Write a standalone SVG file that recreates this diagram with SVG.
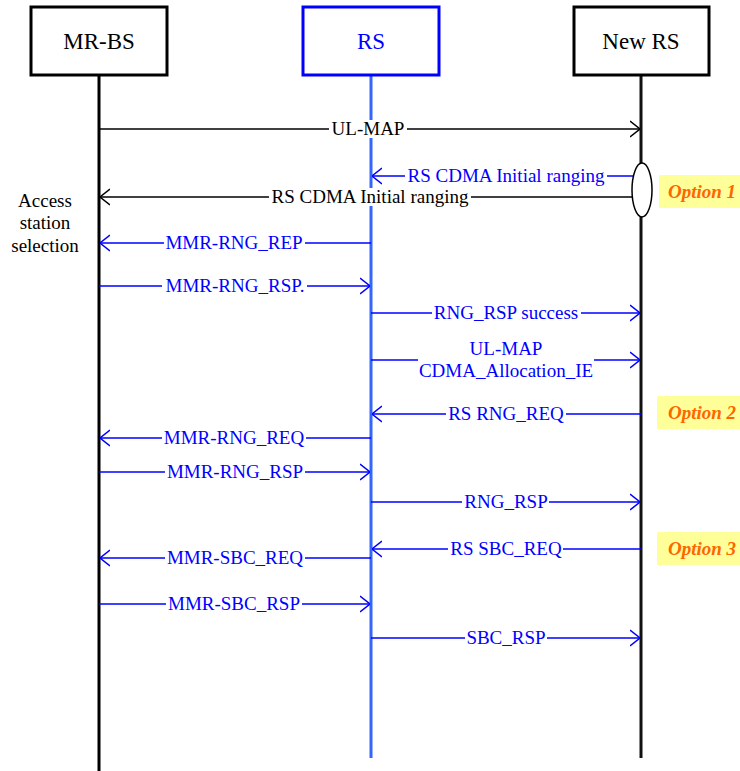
<svg xmlns="http://www.w3.org/2000/svg" width="740" height="771" viewBox="0 0 740 771" font-family="'Liberation Serif', Tinos, 'DejaVu Serif', serif">
<style>
.title{font-size:23px;text-anchor:middle;fill:#000;}
.lbl{font-size:19px;text-anchor:middle;}
.k{fill:#000;}
.b{fill:#0000ff;}
.box{fill:#fff;stroke:#000;stroke-width:3;}
.boxb{fill:#fff;stroke:#0000ff;stroke-width:3;}
.mk{stroke:#000;stroke-width:1.5;fill:none;}
.mb{stroke:#0000ff;stroke-width:1.5;fill:none;}
.bg{fill:#fff;}
.opt{fill:#ffff99;}
.optt{font-size:19px;font-weight:bold;font-style:italic;fill:#ff6600;}
</style>
<defs>
<marker id="ak" viewBox="0 0 10 18" refX="10" refY="9" markerWidth="10" markerHeight="18" orient="auto" markerUnits="userSpaceOnUse"><path d="M0,1 L10,9 L0,17" fill="none" stroke="#000" stroke-width="1.5"/></marker>
<marker id="ab" viewBox="0 0 10 18" refX="10" refY="9" markerWidth="10" markerHeight="18" orient="auto" markerUnits="userSpaceOnUse"><path d="M0,1 L10,9 L0,17" fill="none" stroke="#0000ff" stroke-width="1.5"/></marker>
</defs>
<rect width="740" height="771" fill="#fff"/>

<g id="lifelines">
<line x1="99" y1="75" x2="99" y2="771" stroke="#000" stroke-width="3"/>
<line x1="371" y1="75" x2="371" y2="758" stroke="#3366ff" stroke-width="3"/>
<line x1="641" y1="75" x2="641" y2="758" stroke="#111" stroke-width="3"/>
</g>

<g id="node-mrbs">
<rect class="box" x="31" y="7" width="136" height="68"/>
<text class="title" x="99" y="49">MR-BS</text>
</g>
<g id="node-rs">
<rect class="boxb" x="303" y="7" width="136" height="68"/>
<text class="title" x="371" y="49" style="fill:#0000ff">RS</text>
</g>
<g id="node-newrs">
<rect class="box" x="574" y="7" width="135" height="68"/>
<text class="title" x="641" y="49">New RS</text>
</g>

<g id="connectors">
<line class="mk" x1="99" y1="129" x2="640" y2="129" marker-end="url(#ak)"/>
<line class="mb" x1="633" y1="176" x2="372" y2="176" marker-end="url(#ab)"/>
<line class="mk" x1="632" y1="197" x2="100" y2="197" marker-end="url(#ak)"/>
<line class="mb" x1="371" y1="243" x2="100" y2="243" marker-end="url(#ab)"/>
<line class="mb" x1="99" y1="286" x2="370" y2="286" marker-end="url(#ab)"/>
<line class="mb" x1="371" y1="313" x2="640" y2="313" marker-end="url(#ab)"/>
<line class="mb" x1="371" y1="360" x2="640" y2="360" marker-end="url(#ab)"/>
<line class="mb" x1="641" y1="414" x2="372" y2="414" marker-end="url(#ab)"/>
<line class="mb" x1="371" y1="438" x2="100" y2="438" marker-end="url(#ab)"/>
<line class="mb" x1="99" y1="472" x2="370" y2="472" marker-end="url(#ab)"/>
<line class="mb" x1="371" y1="502" x2="640" y2="502" marker-end="url(#ab)"/>
<line class="mb" x1="641" y1="549" x2="372" y2="549" marker-end="url(#ab)"/>
<line class="mb" x1="371" y1="558" x2="100" y2="558" marker-end="url(#ab)"/>
<line class="mb" x1="99" y1="604" x2="370" y2="604" marker-end="url(#ab)"/>
<line class="mb" x1="371" y1="638" x2="640" y2="638" marker-end="url(#ab)"/>
</g>

<g id="labels">
<rect class="bg" x="329" y="120" width="78" height="18"/>
<text class="lbl k" x="368" y="135">UL-MAP</text>
<rect class="bg" x="405" y="167" width="202" height="18"/>
<text class="lbl b" x="506" y="182">RS CDMA Initial ranging</text>
<rect class="bg" x="269" y="188" width="202" height="18"/>
<text class="lbl k" x="370" y="203">RS CDMA Initial ranging</text>
<rect class="bg" x="164" y="234" width="141" height="18"/>
<text class="lbl b" x="234" y="249">MMR-RNG_REP</text>
<rect class="bg" x="162" y="277" width="145" height="18"/>
<text class="lbl b" x="235" y="292">MMR-RNG_RSP.</text>
<rect class="bg" x="432" y="304" width="149" height="18"/>
<text class="lbl b" x="506" y="319">RNG_RSP success</text>
<rect class="bg" x="418" y="340" width="176" height="40"/>
<text class="lbl b" x="506" y="355">UL-MAP</text>
<text class="lbl b" x="506" y="377">CDMA_Allocation_IE</text>
<rect class="bg" x="446" y="405" width="120" height="18"/>
<text class="lbl b" x="506" y="420">RS RNG_REQ</text>
<rect class="bg" x="162" y="429" width="144" height="18"/>
<text class="lbl b" x="234" y="444">MMR-RNG_REQ</text>
<rect class="bg" x="165" y="463" width="140" height="18"/>
<text class="lbl b" x="235" y="478">MMR-RNG_RSP</text>
<rect class="bg" x="462" y="493" width="87" height="18"/>
<text class="lbl b" x="506" y="508">RNG_RSP</text>
<rect class="bg" x="448" y="540" width="115" height="18"/>
<text class="lbl b" x="506" y="555">RS SBC_REQ</text>
<rect class="bg" x="165" y="549" width="140" height="18"/>
<text class="lbl b" x="235" y="564">MMR-SBC_REQ</text>
<rect class="bg" x="166" y="595" width="136" height="18"/>
<text class="lbl b" x="234" y="610">MMR-SBC_RSP</text>
<rect class="bg" x="465" y="629" width="82" height="18"/>
<text class="lbl b" x="506" y="644">SBC_RSP</text>
</g>

<g id="option1-ellipse">
<ellipse cx="642" cy="190" rx="10" ry="27" fill="#fff" stroke="#000" stroke-width="1.5"/>
</g>

<g id="access-note">
<text class="lbl k" x="45" y="207">Access</text>
<text class="lbl k" x="45" y="229">station</text>
<text class="lbl k" x="45" y="252">selection</text>
</g>

<g id="option1">
<rect class="opt" x="659" y="175" width="81" height="33"/>
<text class="optt" x="668" y="198">Option 1</text>
</g>
<g id="option2">
<rect class="opt" x="657" y="396" width="83" height="33"/>
<text class="optt" x="668" y="419">Option 2</text>
</g>
<g id="option3">
<rect class="opt" x="657" y="532" width="83" height="33"/>
<text class="optt" x="668" y="555">Option 3</text>
</g>
</svg>
